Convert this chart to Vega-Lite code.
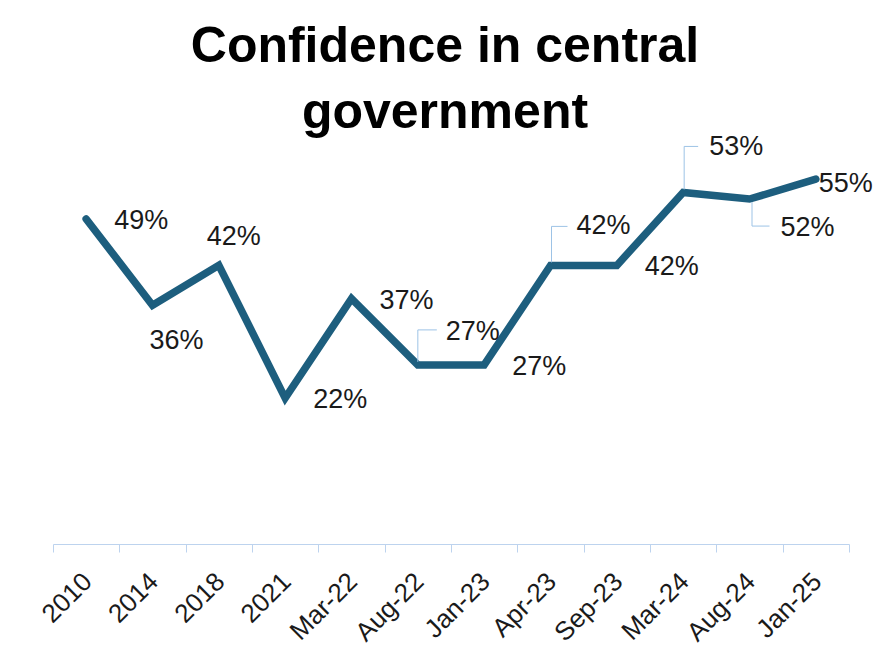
{
  "$schema": "https://vega.github.io/schema/vega-lite/v6.json",
  "width": 796,
  "height": 398,
  "autosize": {"type": "none"},
  "padding": {"left": 53, "top": 146, "right": 28, "bottom": 115},
  "background": "white",
  "title": {
    "text": ["Confidence in central", "government"],
    "font": "Liberation Sans",
    "fontSize": 50,
    "fontWeight": "bold",
    "color": "#000000",
    "lineHeight": 66,
    "anchor": "middle",
    "offset": -5,
    "dx": -6
  },
  "config": {"view": {"stroke": null}, "font": "Liberation Sans"},
  "data": {
    "values": [
      {"period": "2010", "value": 0.49, "label": "49%"},
      {"period": "2014", "value": 0.36, "label": "36%"},
      {"period": "2018", "value": 0.42, "label": "42%"},
      {"period": "2021", "value": 0.22, "label": "22%"},
      {"period": "Mar-22", "value": 0.37, "label": "37%"},
      {"period": "Aug-22", "value": 0.27, "label": "27%"},
      {"period": "Jan-23", "value": 0.27, "label": "27%"},
      {"period": "Apr-23", "value": 0.42, "label": "42%"},
      {"period": "Sep-23", "value": 0.42, "label": "42%"},
      {"period": "Mar-24", "value": 0.53, "label": "53%"},
      {"period": "Aug-24", "value": 0.52, "label": "52%"},
      {"period": "Jan-25", "value": 0.55, "label": "55%"}
    ]
  },
  "encoding": {
    "x": {
      "field": "period",
      "type": "nominal",
      "sort": null,
      "scale": {"type": "band", "paddingInner": 0, "paddingOuter": 0},
      "axis": {
        "title": null,
        "labelAngle": -45,
        "labelFont": "Liberation Sans",
        "labelFontSize": 26,
        "labelColor": "#1a1a1a",
        "tickBand": "extent",
        "tickSize": 8,
        "tickColor": "#BDD3EE",
        "domainColor": "#BDD3EE",
        "labelPadding": 16,
        "labelOffset": -8
      }
    },
    "y": {
      "field": "value",
      "type": "quantitative",
      "scale": {"domain": [0, 0.6]},
      "axis": null
    }
  },
  "layer": [
    {
      "mark": {"type": "line", "color": "#1D5E7E", "strokeWidth": 7.5, "strokeJoin": "miter", "strokeCap": "round"}
    },
    {
      "transform": [{"filter": {"field": "period", "oneOf": ["Aug-22"]}}],
      "mark": {"type": "rule", "color": "#9DC3E6", "strokeWidth": 1, "yOffset": -3, "y2Offset": -35},
      "encoding": {"y2": {"field": "value"}}
    },
    {
      "transform": [{"filter": {"field": "period", "oneOf": ["Aug-22"]}}],
      "mark": {"type": "rule", "color": "#9DC3E6", "strokeWidth": 1, "yOffset": -35, "y2Offset": -35, "x2Offset": 19},
      "encoding": {"x2": {"field": "period"}, "y2": {"field": "value"}}
    },
    {
      "transform": [{"filter": {"field": "period", "oneOf": ["Apr-23"]}}],
      "mark": {"type": "rule", "color": "#9DC3E6", "strokeWidth": 1, "xOffset": 1, "x2Offset": 1, "yOffset": -3, "y2Offset": -39},
      "encoding": {"x2": {"field": "period"}, "y2": {"field": "value"}}
    },
    {
      "transform": [{"filter": {"field": "period", "oneOf": ["Apr-23"]}}],
      "mark": {"type": "rule", "color": "#9DC3E6", "strokeWidth": 1, "xOffset": 1, "yOffset": -39, "y2Offset": -39, "x2Offset": 17},
      "encoding": {"x2": {"field": "period"}, "y2": {"field": "value"}}
    },
    {
      "transform": [{"filter": {"field": "period", "oneOf": ["Mar-24"]}}],
      "mark": {"type": "rule", "color": "#9DC3E6", "strokeWidth": 1, "xOffset": 1, "x2Offset": 1, "yOffset": -3, "y2Offset": -46},
      "encoding": {"x2": {"field": "period"}, "y2": {"field": "value"}}
    },
    {
      "transform": [{"filter": {"field": "period", "oneOf": ["Mar-24"]}}],
      "mark": {"type": "rule", "color": "#9DC3E6", "strokeWidth": 1, "xOffset": 1, "yOffset": -46, "y2Offset": -46, "x2Offset": 15},
      "encoding": {"x2": {"field": "period"}, "y2": {"field": "value"}}
    },
    {
      "transform": [{"filter": {"field": "period", "oneOf": ["Aug-24"]}}],
      "mark": {"type": "rule", "color": "#9DC3E6", "strokeWidth": 1, "xOffset": 2.5, "x2Offset": 2.5, "yOffset": 3, "y2Offset": 27},
      "encoding": {"x2": {"field": "period"}, "y2": {"field": "value"}}
    },
    {
      "transform": [{"filter": {"field": "period", "oneOf": ["Aug-24"]}}],
      "mark": {"type": "rule", "color": "#9DC3E6", "strokeWidth": 1, "xOffset": 2.5, "yOffset": 27, "y2Offset": 27, "x2Offset": 20},
      "encoding": {"x2": {"field": "period"}, "y2": {"field": "value"}}
    },
    {
      "transform": [{"filter": {"field": "period", "oneOf": ["2010", "2021", "Mar-22", "Jan-23", "Sep-23"]}}],
      "mark": {"type": "text", "align": "left", "baseline": "middle", "dx": 28, "dy": 2, "fontSize": 27, "color": "#1a1a1a"},
      "encoding": {"text": {"field": "label"}}
    },
    {
      "transform": [{"filter": {"field": "period", "oneOf": ["2014"]}}],
      "mark": {"type": "text", "align": "left", "baseline": "middle", "dx": -3, "dy": 36, "fontSize": 27, "color": "#1a1a1a"},
      "encoding": {"text": {"field": "label"}}
    },
    {
      "transform": [{"filter": {"field": "period", "oneOf": ["2018"]}}],
      "mark": {"type": "text", "align": "left", "baseline": "middle", "dx": -12, "dy": -28, "fontSize": 27, "color": "#1a1a1a"},
      "encoding": {"text": {"field": "label"}}
    },
    {
      "transform": [{"filter": {"field": "period", "oneOf": ["Aug-22"]}}],
      "mark": {"type": "text", "align": "left", "baseline": "middle", "dx": 28, "dy": -33, "fontSize": 27, "color": "#1a1a1a"},
      "encoding": {"text": {"field": "label"}}
    },
    {
      "transform": [{"filter": {"field": "period", "oneOf": ["Apr-23"]}}],
      "mark": {"type": "text", "align": "left", "baseline": "middle", "dx": 26, "dy": -39, "fontSize": 27, "color": "#1a1a1a"},
      "encoding": {"text": {"field": "label"}}
    },
    {
      "transform": [{"filter": {"field": "period", "oneOf": ["Mar-24"]}}],
      "mark": {"type": "text", "align": "left", "baseline": "middle", "dx": 26, "dy": -45, "fontSize": 27, "color": "#1a1a1a"},
      "encoding": {"text": {"field": "label"}}
    },
    {
      "transform": [{"filter": {"field": "period", "oneOf": ["Aug-24"]}}],
      "mark": {"type": "text", "align": "left", "baseline": "middle", "dx": 31, "dy": 29, "fontSize": 27, "color": "#1a1a1a"},
      "encoding": {"text": {"field": "label"}}
    },
    {
      "transform": [{"filter": {"field": "period", "oneOf": ["Jan-25"]}}],
      "mark": {"type": "text", "align": "left", "baseline": "middle", "dx": 3, "dy": 5, "fontSize": 27, "color": "#1a1a1a"},
      "encoding": {"text": {"field": "label"}}
    }
  ]
}
